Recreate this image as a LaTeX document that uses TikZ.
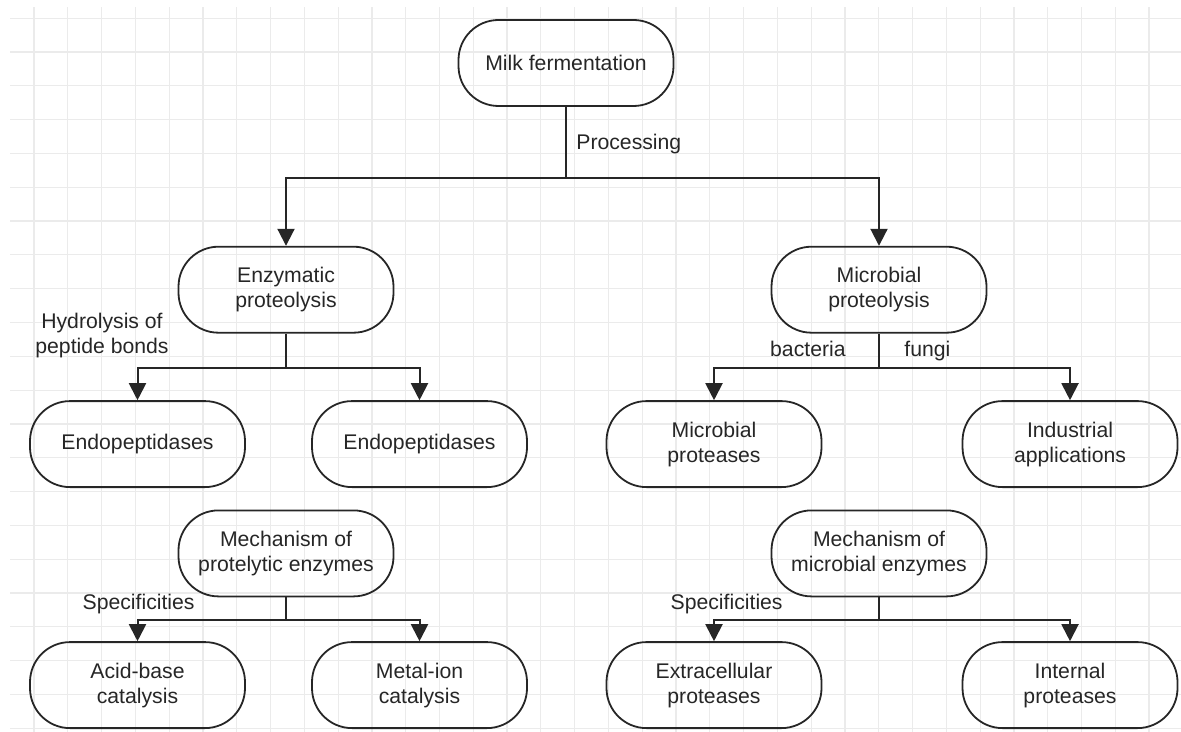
\documentclass[tikz,border=0pt]{standalone}
\usepackage{fontspec}
\setmainfont{Liberation Sans}
\usetikzlibrary{positioning,arrows.meta,calc}
\definecolor{gridgray}{HTML}{EBEBEB}
\definecolor{inkgray}{HTML}{262626}

\begin{document}
\begin{tikzpicture}[
    node distance=33.3pt,
    stadium/.style={draw=inkgray, line width=0.9pt, rounded corners=20pt, align=center, minimum width=107.5pt, minimum height=43pt, font=\fontsize{10.6}{12.5}\selectfont, text=inkgray},
    lbl/.style={inner sep=0pt, align=center, font=\fontsize{10.6}{12.5}\selectfont, text=inkgray},
    arrow/.style={-{Triangle[length=8.5pt,width=8.5pt]}, line width=1pt, draw=inkgray},
    link/.style={line width=1pt, draw=inkgray}
]
\useasboundingbox (0,0) rectangle (590.5pt,-366pt);
% background grid
\foreach \i in {0,...,33}
  \draw[gridgray, line width=0.6pt] (17pt+16.895pt*\i,-3.5pt) -- (17pt+16.895pt*\i,-366pt);
\foreach \j in {0,...,21}
  \draw[gridgray, line width=0.6pt] (5pt,-9.15pt-16.9pt*\j) -- (590.5pt,-9.15pt-16.9pt*\j);

\node[stadium] (milk) at (283pt,-31.5pt) {Milk fermentation};
\node[stadium, below=69.45pt of milk, xshift=-140pt] (enz) {Enzymatic\\proteolysis};
\node[stadium, below=69.45pt of milk, xshift=156.5pt] (mic) {Microbial\\proteolysis};

\node[stadium, below=of enz, xshift=-74.25pt] (endoa) {Endopeptidases};
\node[stadium, below=of enz, xshift=66.75pt] (endob) {Endopeptidases};
\node[stadium, below=of mic, xshift=-82.5pt] (mprot) {Microbial\\proteases};
\node[stadium, below=of mic, xshift=95.5pt] (indapp) {Industrial\\applications};

\node[stadium, below=87.95pt of enz] (mecha) {Mechanism of\\protelytic enzymes};
\node[stadium, below=87.95pt of mic] (mechb) {Mechanism of\\microbial enzymes};
\node[stadium, below=21.95pt of mecha, xshift=-74.25pt] (acid) {Acid-base\\catalysis};
\node[stadium, below=21.95pt of mecha, xshift=66.75pt] (metal) {Metal-ion\\catalysis};
\node[stadium, below=21.95pt of mechb, xshift=-82.5pt] (extra) {Extracellular\\proteases};
\node[stadium, below=21.95pt of mechb, xshift=95.5pt] (intern) {Internal\\proteases};

% branching points
\coordinate[below=35.35pt of milk.south] (splita);
\coordinate[below=17.2pt of enz.south] (splitb);
\coordinate[below=17.2pt of mic.south] (splitc);
\coordinate[below=11.5pt of mecha.south] (splitd);
\coordinate[below=11.5pt of mechb.south] (splite);

\draw[link] (milk.south) -- (splita);
\draw[arrow] (splita) -| (enz.north);
\draw[arrow] (splita) -| (mic.north);
\draw[link] (enz.south) -- (splitb);
\draw[arrow] (splitb) -| (endoa.north);
\draw[arrow] (splitb) -| (endob.north);
\draw[link] (mic.south) -- (splitc);
\draw[arrow] (splitc) -| (mprot.north);
\draw[arrow] (splitc) -| (indapp.north);
\draw[link] (mecha.south) -- (splitd);
\draw[arrow] (splitd) -| (acid.north);
\draw[arrow] (splitd) -| (metal.north);
\draw[link] (mechb.south) -- (splite);
\draw[arrow] (splite) -| (extra.north);
\draw[arrow] (splite) -| (intern.north);

% labels
\node[lbl, anchor=base west] (proc) at ($(splita)+(5pt,13.85pt)$) {Processing};
\node[lbl, anchor=base east] (hydro) at ($(splitb)+(-58.5pt,7.35pt)$) {Hydrolysis of\\peptide bonds};
\node[lbl, anchor=base east] (bact) at ($(splitc)+(-16.5pt,5.85pt)$) {bacteria};
\node[lbl, anchor=base west] (fung) at ($(splitc)+(12.5pt,5.85pt)$) {fungi};
\node[lbl, anchor=base east] (speca) at ($(splitd)+(-45.5pt,5.3pt)$) {Specificities};
\node[lbl, anchor=base east] (specb) at ($(splite)+(-48pt,5.3pt)$) {Specificities};
\end{tikzpicture}
\end{document}
